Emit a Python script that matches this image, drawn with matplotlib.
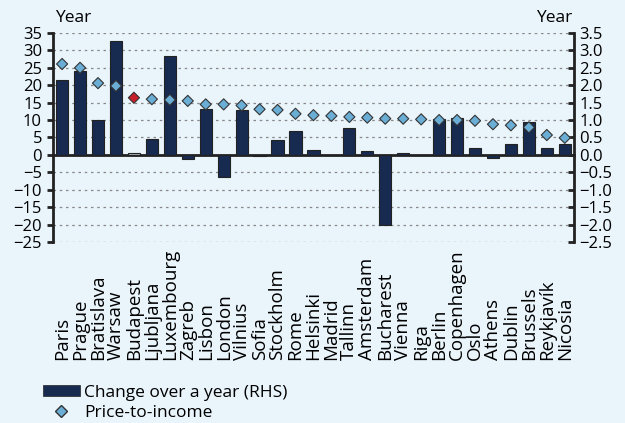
import numpy as np
import matplotlib.pyplot as plt
from matplotlib.patches import Patch
from matplotlib.lines import Line2D

plt.rcParams['font.family'] = ['Open Sans', 'DejaVu Sans']

cities = ['Paris', 'Prague', 'Bratislava', 'Warsaw', 'Budapest', 'Ljubljana',
          'Luxembourg', 'Zagreb', 'Lisbon', 'London', 'Vilnius', 'Sofia',
          'Stockholm', 'Rome', 'Helsinki', 'Madrid', 'Tallinn', 'Amsterdam',
          'Bucharest', 'Vienna', 'Riga', 'Berlin', 'Copenhagen', 'Oslo',
          'Athens', 'Dublin', 'Brussels', 'Reykjavík', 'Nicosia']
# price-to-income, years (LHS)
price_to_income = [26.1, 25.0, 20.6, 19.8, 16.4, 16.0, 15.8, 15.5, 14.5, 14.5,
                   14.2, 13.1, 12.9, 11.8, 11.4, 11.2, 10.9, 10.7, 10.4, 10.4,
                   10.2, 10.0, 10.0, 9.8, 8.8, 8.5, 7.9, 5.7, 4.9]
# change over a year (RHS)
change = [2.16, 2.40, 1.00, 3.26, 0.06, 0.45, 2.85, -0.11, 1.31, -0.63,
          1.28, -0.02, 0.42, 0.70, 0.13, 0.01, 0.77, 0.11, -2.01, 0.04,
          0.01, 1.02, 1.06, 0.21, -0.10, 0.32, 0.94, 0.19, 0.32]
highlight = 'Budapest'

bg = '#e9f4fb'
navy = '#172a4f'
light = '#6aaed6'
dark = '#222222'

fig = plt.figure(figsize=(6.25, 4.23), dpi=100, facecolor=bg)
ax = fig.add_subplot(111)
ax2 = ax.twinx()
fig.subplots_adjust(left=0.085, right=0.918, top=0.922, bottom=0.428)

x = np.arange(len(cities))
bar_colors = ['#a3b1b6' if c == highlight else navy for c in cities]
dia_colors = ['#c8202a' if c == highlight else light for c in cities]

# bars on the right axis
ax2.set_facecolor(bg)
ax2.bar(x, change, width=0.68, color=bar_colors, edgecolor=dark,
        linewidth=0.8, zorder=3)
ax2.set_ylim(-2.5, 3.5)
rticks = np.arange(-2.5, 3.6, 0.5)
ax2.set_yticks(rticks)
ax2.set_yticklabels([f'{v:.1f}'.replace('-', '\u2212') for v in rticks])
ax2.yaxis.grid(True, linestyle=(0, (2, 3)), color='#888888', linewidth=0.9, zorder=0)
ax2.set_axisbelow(True)

# diamonds on the left axis, drawn above the bars
ax.set_zorder(ax2.get_zorder() + 1)
ax.patch.set_visible(False)
ax.scatter(x, price_to_income, marker='D', s=32, c=dia_colors,
           edgecolors='#333333', linewidths=0.8, zorder=5)
ax.set_ylim(-25, 35)
lticks = np.arange(-25, 36, 5)
ax.set_yticks(lticks)
ax.set_yticklabels([str(v).replace('-', '\u2212') for v in lticks])
ax.set_xlim(-0.5, len(cities) - 0.5)

ax.set_xticks(x)
ax.set_xticklabels(cities, rotation=90, fontsize=13.5, va='bottom')
ax.set_xticks(x[:-1] + 0.5, minor=True)
ax.tick_params(axis='x', which='both', length=0, pad=85)
ax2.tick_params(axis='x', which='major', length=0, labelbottom=False)
ax2.tick_params(axis='x', which='minor', length=5, width=2, direction='out',
                color=dark)

ax.tick_params(axis='y', labelsize=12, length=4, width=2, color=dark,
               direction='out', pad=4)
ax2.tick_params(axis='y', labelsize=12, length=4, width=2, color=dark,
                direction='in', pad=4)

for s in ['top', 'bottom', 'right']:
    ax.spines[s].set_visible(False)
ax.spines['left'].set_linewidth(2)
ax.spines['left'].set_color(dark)
for s in ['top', 'left']:
    ax2.spines[s].set_visible(False)
ax2.spines['right'].set_linewidth(2)
ax2.spines['right'].set_color(dark)
ax2.spines['bottom'].set_position(('data', 0))
ax2.spines['bottom'].set_linewidth(2)
ax2.spines['bottom'].set_color(dark)

fig.text(0.088, 0.957, 'Year', fontsize=12.5, ha='left', va='center')
fig.text(0.915, 0.957, 'Year', fontsize=12.5, ha='right', va='center')

handles = [Patch(facecolor=navy, edgecolor=dark, linewidth=0.5),
           Line2D([], [], marker='D', linestyle='none', markersize=6,
                  markerfacecolor=light, markeredgecolor='#333333')]
fig.legend(handles, ['Change over a year (RHS)', 'Price-to-income'],
           loc='upper left', bbox_to_anchor=(0.069, 0.09),
           frameon=False, fontsize=12.5, handlelength=2.1, handleheight=0.6,
           handletextpad=0.25, labelspacing=0.25, borderpad=0, borderaxespad=0)

fig.savefig('out.png', dpi=100, facecolor=bg)
